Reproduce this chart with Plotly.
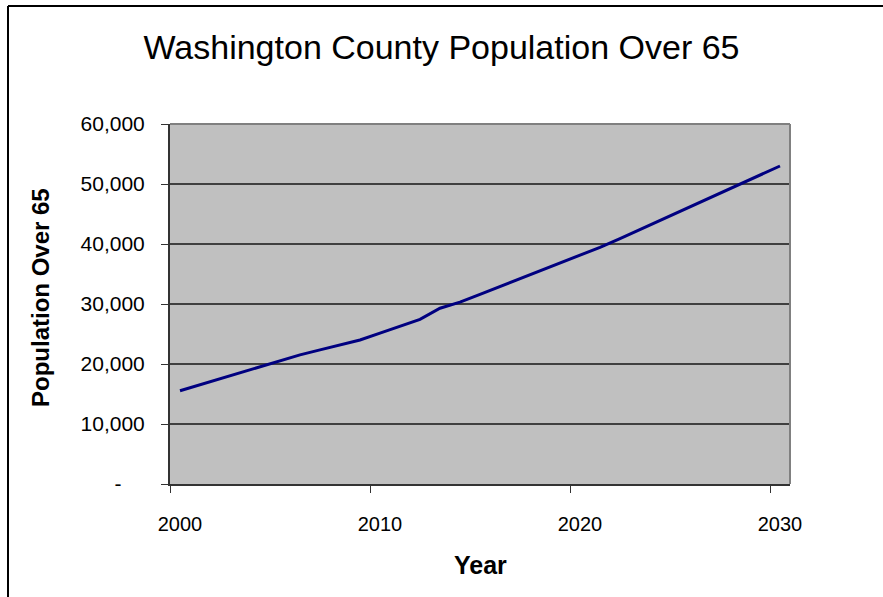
import plotly.graph_objects as go

years = list(range(2000, 2031))
population = [15550, 16540, 17530, 18520, 19510, 20500, 21520, 22350, 23200, 24000,
              25150, 26300, 27450, 29300, 30300, 31600, 32900, 34200, 35500, 36800,
              38100, 39450, 40900, 42400, 43900, 45400, 46900, 48400, 49900, 51450, 53000]
x_label_vals = [2000, 2010, 2020, 2030]
y_tick_vals = [0, 10000, 20000, 30000, 40000, 50000, 60000]
y_tick_text = ["-\u00a0\u00a0\u00a0\u00a0", "10,000", "20,000", "30,000", "40,000", "50,000", "60,000"]

title_text = "Washington County Population Over 65"
y_title = "Population Over 65"
x_title = "Year"

FONT = "Liberation Sans, Arial, sans-serif"
W, H = 883, 597
L, R, T, B = 170, 790, 124, 484

def px(x):
    return (x - L) / (R - L)

def py(y):
    return (B - y) / (B - T)

fig = go.Figure()
fig.add_trace(go.Scatter(x=years, y=population, mode="lines",
                         line=dict(color="#000080", width=3), hoverinfo="x+y"))

fig.update_layout(
    width=W, height=H,
    margin=dict(l=L, r=W - R, t=T, b=H - B, pad=0),
    paper_bgcolor="white",
    plot_bgcolor="#C0C0C0",
    showlegend=False,
    font=dict(family=FONT, color="black"),
    title=dict(text=title_text, x=0.5, xanchor="center", xref="container",
               y=1 - 47 / H, yref="container", yanchor="middle",
               font=dict(family=FONT, size=34, color="black")),
)

fig.update_xaxes(
    range=[1999.5, 2030.5],
    tickmode="array", tickvals=x_label_vals, ticktext=[str(v) for v in x_label_vals],
    ticks="", showgrid=False, zeroline=False,
    showline=True, linecolor="#333333", linewidth=2,
    tickfont=dict(family=FONT, size=20, color="black"),
    ticklabelstandoff=21,
    minor=dict(tickmode="array", tickvals=[1999.5, 2009.5, 2019.5, 2029.5],
               ticks="outside", ticklen=7, tickcolor="#333333", tickwidth=1, showgrid=False),
)

fig.update_yaxes(
    range=[0, 60000],
    tickmode="array", tickvals=y_tick_vals, ticktext=y_tick_text,
    ticks="outside", ticklen=7, tickcolor="#333333", tickwidth=1,
    showgrid=True, gridcolor="#404040", gridwidth=1.5, zeroline=False,
    showline=True, linecolor="#333333", linewidth=2,
    tickfont=dict(family=FONT, size=21, color="black"),
    ticklabelstandoff=12,
)

shapes = [
    # plot-area top and right border (gray)
    dict(type="line", xref="paper", yref="paper", x0=0, x1=1, y0=1, y1=1,
         line=dict(color="#808080", width=2)),
    dict(type="line", xref="paper", yref="paper", x0=1, x1=1, y0=0, y1=1,
         line=dict(color="#808080", width=2)),
    # outer chart border (top and left)
    dict(type="line", xref="paper", yref="paper", x0=px(8), x1=px(900), y0=py(6), y1=py(6),
         line=dict(color="black", width=2)),
    dict(type="line", xref="paper", yref="paper", x0=px(8), x1=px(8), y0=py(6), y1=py(620),
         line=dict(color="black", width=2)),
]
fig.update_layout(shapes=shapes)

fig.add_annotation(text=f"<b>{y_title}</b>", xref="paper", yref="paper",
                   x=px(40), y=py(298), textangle=-90, showarrow=False,
                   xanchor="center", yanchor="middle",
                   font=dict(family=FONT, size=24, color="black"))
fig.add_annotation(text=f"<b>{x_title}</b>", xref="paper", yref="paper",
                   x=px(480), y=py(565), showarrow=False,
                   xanchor="center", yanchor="middle",
                   font=dict(family=FONT, size=25, color="black"))

fig.write_html("out.html")
